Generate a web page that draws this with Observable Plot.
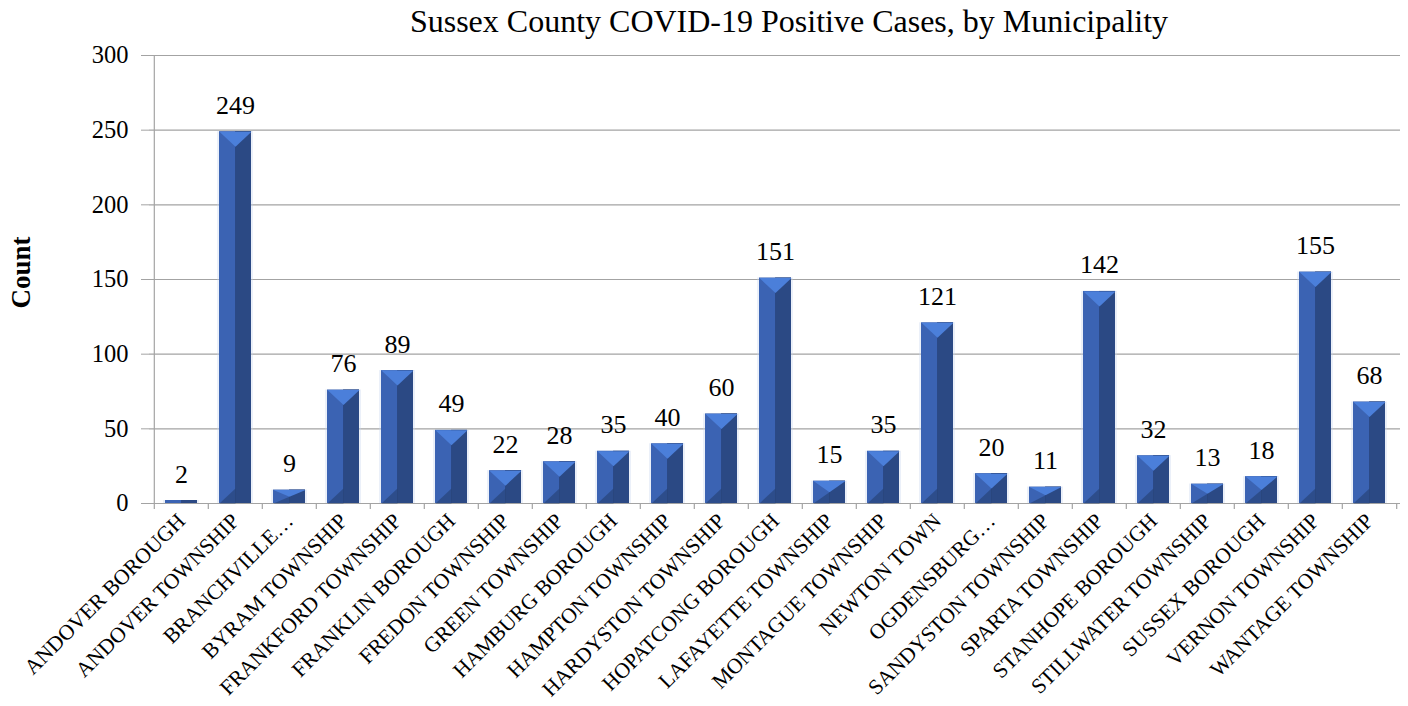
<!DOCTYPE html>
<html>
<head>
<meta charset="utf-8">
<script src="https://cdn.jsdelivr.net/npm/d3@7"></script>
<script src="https://cdn.jsdelivr.net/npm/@observablehq/plot@0.6"></script>
<style>
  html, body { margin: 0; padding: 0; background: #fff; }
  #chart svg { display: block; }
  #chart svg text { font-family: 'Liberation Serif', 'Times New Roman', serif; }
</style>
</head>
<body>
<div id="chart"></div>
<script>
const categories = ["ANDOVER BOROUGH","ANDOVER TOWNSHIP","BRANCHVILLE…","BYRAM TOWNSHIP","FRANKFORD TOWNSHIP","FRANKLIN BOROUGH","FREDON TOWNSHIP","GREEN TOWNSHIP","HAMBURG BOROUGH","HAMPTON TOWNSHIP","HARDYSTON TOWNSHIP","HOPATCONG BOROUGH","LAFAYETTE TOWNSHIP","MONTAGUE TOWNSHIP","NEWTON TOWN","OGDENSBURG…","SANDYSTON TOWNSHIP","SPARTA TOWNSHIP","STANHOPE BOROUGH","STILLWATER TOWNSHIP","SUSSEX BOROUGH","VERNON TOWNSHIP","WANTAGE TOWNSHIP"];
const counts = [2,249,9,76,89,49,22,28,35,40,60,151,15,35,121,20,11,142,32,13,18,155,68];
const yTicks = [0,50,100,150,200,250,300];
const title = "Sussex County COVID-19 Positive Cases, by Municipality";
const yLabel = "Count";

const data = categories.map((name, i) => ({name, count: counts[i]}));

const W = 1408, H = 706;
const mL = 149, mR = 8, mT = 55, mB = 203;
const step = (W - mL - mR) / categories.length;
const padIn = 0.41;
const barW = step * (1 - padIn);
const half = barW / 2;
const pxPerUnit = (H - mT - mB) / 300;
const grid = "#a3a3a3";
const font = "'Liberation Serif', 'Times New Roman', serif";

const cLeft = "#3b63b3", cRight = "#2b4984", cTop = "#4b7fda", cBottom = "#24406f";

function capH(v) { return Math.min(15, v * pxPerUnit * 0.5); }
function topTri(h) {
  return { draw(ctx) { ctx.moveTo(-half, 0); ctx.lineTo(half, 0); ctx.lineTo(0, h); ctx.closePath(); } };
}
function botTri(h) {
  return { draw(ctx) { ctx.moveTo(-half, 0); ctx.lineTo(0, -h); ctx.lineTo(0, 0); ctx.closePath(); } };
}

const capMarks = data.filter(d => d.count * pxPerUnit > 5).flatMap(d => [
  Plot.dot([d], {x: "name", y: "count", r: 5, symbol: topTri(capH(d.count)), fill: cTop, stroke: "none"}),
  Plot.dot([d], {x: "name", y: () => 0, r: 5, symbol: botTri(capH(d.count)), fill: cBottom, stroke: "none", fillOpacity: 0.6})
]);

const chart = Plot.plot({
  width: W, height: H,
  marginLeft: mL, marginRight: mR, marginTop: mT, marginBottom: mB,
  style: {fontFamily: font, background: "#fff", color: "#000"},
  x: {domain: categories, paddingInner: padIn, paddingOuter: padIn / 2, label: null},
  y: {domain: [0, 300], label: null},
  marks: [
    Plot.ruleY(yTicks, {stroke: grid, strokeWidth: 1.2}),
    Plot.ruleX([categories[0]], {dx: -step / 2, y1: 0, y2: 300, stroke: grid, strokeWidth: 1.2}),
    Plot.ruleX(categories, {dx: -step / 2, y1: 0, y2: 6 / pxPerUnit, dy: 6, stroke: grid, strokeWidth: 1.2}),
    Plot.ruleX([categories[categories.length - 1]], {dx: step / 2, y1: 0, y2: 6 / pxPerUnit, dy: 6, stroke: grid, strokeWidth: 1.2}),
    Plot.axisY(yTicks, {tickSize: 8, tickPadding: 13, stroke: grid, fontSize: 24.5, fontFamily: font, fill: "#000", label: null}),
    Plot.axisX({tickSize: 0, tickPadding: 14, tickRotate: -45, fontSize: 21.5, fontFamily: font, fill: "#000", label: null}),
    Plot.barY(data, {x: "name", y: "count", fill: "#c5d3ee", fillOpacity: 0.35, insetLeft: -2, insetRight: -2}),
    Plot.barY(data, {x: "name", y: "count", fill: cLeft}),
    Plot.barY(data, {x: "name", y: "count", fill: cRight, insetLeft: half}),
    ...capMarks,
    Plot.text(data, {x: "name", y: "count", text: d => String(d.count), lineAnchor: "bottom", dy: -18, fontSize: 26, fontFamily: font, fill: "#000"}),
    Plot.text([title], {frameAnchor: "top", text: d => d, lineAnchor: "bottom", dy: -24, dx: 14, fontSize: 32, fontFamily: font, fill: "#000"}),
    Plot.text([yLabel], {frameAnchor: "left", text: d => d, rotate: -90, textAnchor: "middle", dx: -(mL - 21), dy: -7, fontSize: 27, fontWeight: "bold", fontFamily: font, fill: "#000"})
  ]
});
document.getElementById("chart").appendChild(chart);
</script>
</body>
</html>
